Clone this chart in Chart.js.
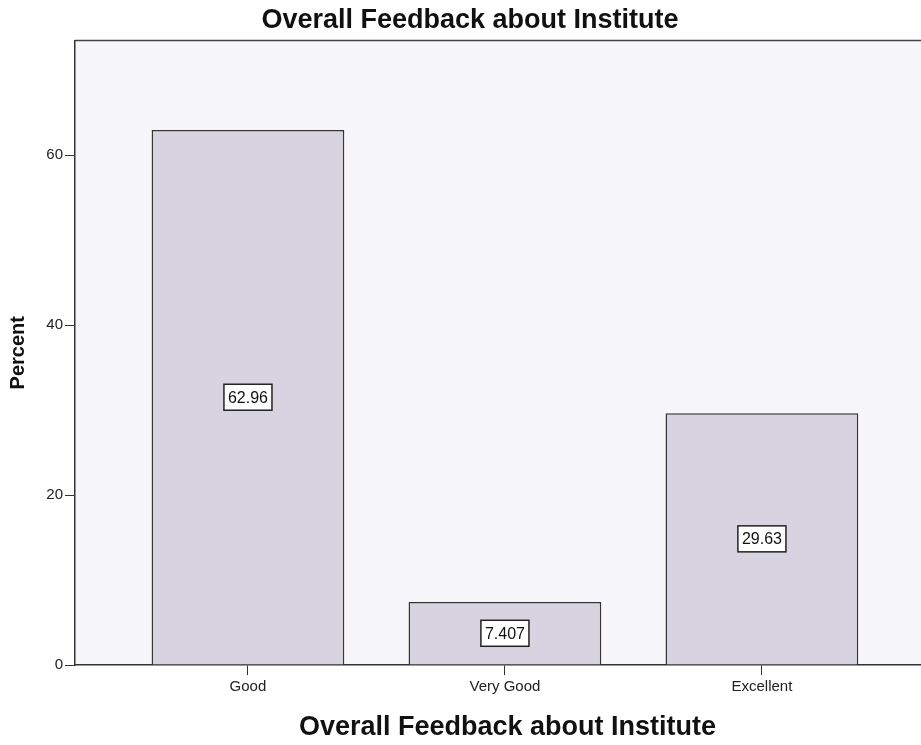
<!DOCTYPE html>
<html>
<head>
<meta charset="utf-8">
<script src="https://cdn.jsdelivr.net/npm/chart.js@4.4.1/dist/chart.umd.min.js"></script>
<style>
    html, body { margin: 0; padding: 0; background: #ffffff; overflow: hidden; }
    #wrap { width: 940px; height: 745px; position: relative; }
</style>
</head>
<body>
<div id="wrap"><canvas id="chart"></canvas></div>
<script>
    // Datos
    const categories = ['Good', 'Very Good', 'Excellent'];
    const percents = [62.96, 7.407, 29.63];
    const valueLabels = ['62.96', '7.407', '29.63'];
    const yTicks = [0, 20, 40, 60];

    const FONT = 'Arial, "Liberation Sans", sans-serif';

    // Fondo del area de grafico y marco superior
    const frame = {
        id: 'frame',
        beforeDraw(chart) {
            const a = chart.chartArea;
            const ctx = chart.ctx;
            ctx.save();
            ctx.fillStyle = '#f7f6fa';
            ctx.fillRect(a.left, a.top, a.right - a.left, a.bottom - a.top);
            ctx.restore();
        },
        afterDraw(chart) {
            const a = chart.chartArea;
            const ctx = chart.ctx;
            ctx.save();
            ctx.strokeStyle = '#444444';
            ctx.lineWidth = 1.5;
            ctx.beginPath();
            ctx.moveTo(a.left, a.top);
            ctx.lineTo(a.right, a.top);
            ctx.stroke();
            ctx.restore();
        }
    };

    // Etiquetas con recuadro en el centro de cada barra
    const boxLabels = {
        id: 'boxLabels',
        afterDatasetsDraw(chart) {
            const ctx = chart.ctx;
            const meta = chart.getDatasetMeta(0);
            ctx.save();
            ctx.font = '16px ' + FONT;
            ctx.textAlign = 'center';
            ctx.textBaseline = 'middle';
            meta.data.forEach((bar, i) => {
                const text = valueLabels[i];
                const cy = (bar.y + bar.base) / 2;
                const w = ctx.measureText(text).width + 8;
                const h = 26;
                ctx.fillStyle = '#ffffff';
                ctx.fillRect(bar.x - w / 2, cy - h / 2, w, h);
                ctx.strokeStyle = '#222222';
                ctx.lineWidth = 1.5;
                ctx.strokeRect(bar.x - w / 2, cy - h / 2, w, h);
                ctx.fillStyle = '#111111';
                ctx.fillText(text, bar.x, cy + 1);
            });
            ctx.restore();
        }
    };

    new Chart(document.getElementById('chart'), {
        type: 'bar',
        data: {
            datasets: [{
                data: percents.map((v, i) => ({ x: i + 1, y: v })),
                backgroundColor: '#d7d3e0',
                borderColor: '#333333',
                borderWidth: 1.5,
                categoryPercentage: 1,
                barPercentage: 0.75
            }]
        },
        options: {
            responsive: true,
            maintainAspectRatio: false,
            animation: false,
            layout: { padding: 0 },
            plugins: {
                legend: { display: false },
                tooltip: { enabled: false },
                title: {
                    display: true,
                    text: 'Overall Feedback about Institute',
                    color: '#111111',
                    font: { family: FONT, size: 27, weight: 'bold' },
                    padding: { top: 4, bottom: 4 }
                }
            },
            scales: {
                x: {
                    type: 'linear',
                    offset: false,
                    min: 0.327,
                    max: 3.693,
                    afterBuildTicks: s => { s.ticks = categories.map((c, i) => ({ value: i + 1 })); },
                    afterFit: s => { s.height = 80; },
                    ticks: {
                        callback: v => categories[v - 1],
                        color: '#222222',
                        font: { family: FONT, size: 15 },
                        padding: 3,
                        maxRotation: 0,
                        autoSkip: false
                    },
                    grid: {
                        offset: false,
                        drawOnChartArea: false,
                        drawTicks: true,
                        tickLength: 10,
                        color: '#333333'
                    },
                    border: { display: true, color: '#333333', width: 1.5 },
                    title: {
                        display: true,
                        text: 'Overall Feedback about Institute',
                        color: '#111111',
                        font: { family: FONT, size: 27, weight: 'bold' },
                        padding: { top: 0, bottom: 1 }
                    }
                },
                y: {
                    min: 0,
                    max: 73.5,
                    afterBuildTicks: s => { s.ticks = yTicks.map(v => ({ value: v })); },
                    afterFit: s => { s.width = 75; },
                    ticks: {
                        color: '#222222',
                        font: { family: FONT, size: 15 },
                        padding: 2
                    },
                    grid: {
                        drawOnChartArea: false,
                        drawTicks: true,
                        tickLength: 10,
                        color: '#333333'
                    },
                    border: { display: true, color: '#333333', width: 1.5 },
                    title: {
                        display: true,
                        text: 'Percent',
                        color: '#111111',
                        font: { family: FONT, size: 20, weight: 'bold' },
                        padding: { top: 6 }
                    }
                }
            }
        },
        plugins: [frame, boxLabels]
    });
</script>
</body>
</html>
